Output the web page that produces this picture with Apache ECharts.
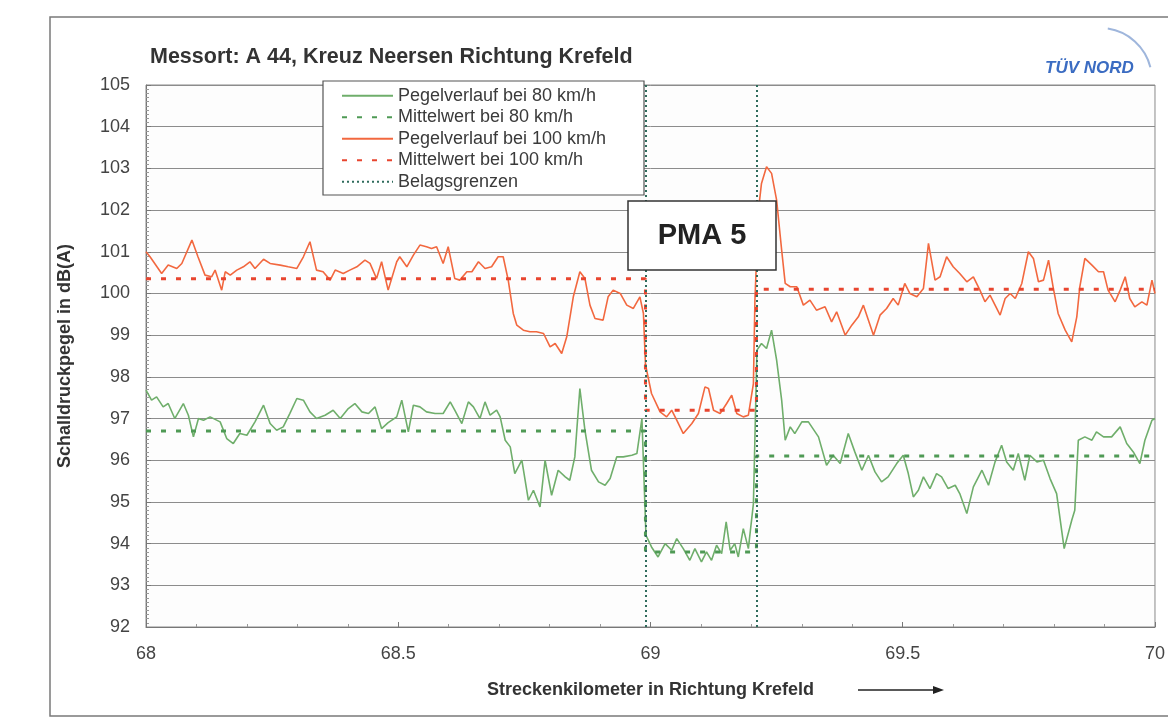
<!DOCTYPE html>
<html>
<head>
<meta charset="utf-8">
<script src="https://cdn.jsdelivr.net/npm/echarts@6/dist/echarts.min.js"></script>
<style>
html,body{margin:0;padding:0;background:#ffffff;}
#chart{width:1168px;height:719px;}
</style>
</head>
<body>
<div id="chart"></div>
<script>
// ---- Data (km, dB(A)) ----
const km100 = [68.000,68.008,68.031,68.044,68.061,68.071,68.091,68.103,68.117,68.130,68.137,68.150,68.157,68.167,68.180,68.193,68.206,68.216,68.233,68.246,68.266,68.282,68.299,68.312,68.325,68.338,68.351,68.365,68.375,68.391,68.404,68.418,68.434,68.444,68.457,68.467,68.480,68.497,68.503,68.517,68.530,68.543,68.556,68.566,68.576,68.589,68.599,68.612,68.622,68.636,68.646,68.659,68.672,68.685,68.698,68.708,68.718,68.728,68.735,68.748,68.761,68.774,68.788,68.801,68.811,68.824,68.834,68.847,68.860,68.870,68.880,68.890,68.906,68.916,68.926,68.940,68.953,68.966,68.979,68.986,68.990,69.002,69.019,69.032,69.042,69.052,69.065,69.082,69.095,69.108,69.115,69.125,69.138,69.151,69.161,69.171,69.184,69.194,69.204,69.207,69.214,69.220,69.230,69.240,69.250,69.260,69.267,69.277,69.290,69.303,69.316,69.329,69.346,69.359,69.369,69.386,69.399,69.412,69.422,69.432,69.442,69.455,69.468,69.481,69.491,69.504,69.514,69.528,69.541,69.551,69.564,69.574,69.587,69.600,69.613,69.627,69.640,69.653,69.663,69.673,69.683,69.693,69.703,69.713,69.723,69.736,69.749,69.759,69.769,69.779,69.789,69.798,69.808,69.822,69.835,69.845,69.851,69.861,69.875,69.888,69.898,69.907,69.921,69.931,69.941,69.950,69.960,69.974,69.984,69.994,70.000];
const level100 = [101.0,100.88,100.48,100.68,100.6,100.72,101.28,100.88,100.44,100.4,100.56,100.08,100.52,100.44,100.56,100.64,100.76,100.6,100.82,100.72,100.68,100.64,100.6,100.88,101.24,100.56,100.52,100.32,100.56,100.48,100.56,100.64,100.8,100.72,100.36,100.76,100.08,100.76,100.88,100.64,100.92,101.16,101.12,101.08,101.12,100.72,101.12,100.36,100.32,100.52,100.52,100.76,100.6,100.64,100.88,100.88,100.32,99.52,99.24,99.12,99.08,99.08,99.04,98.72,98.8,98.56,98.96,99.92,100.52,100.36,99.72,99.4,99.36,99.92,100.08,100.0,99.72,99.64,99.92,99.52,98.3,97.6,97.16,97.04,97.2,96.96,96.64,96.88,97.12,97.76,97.72,97.2,97.12,97.36,97.56,97.12,97.04,97.08,97.84,99.84,102.0,102.64,103.04,102.88,102.24,101.04,100.24,100.16,100.16,99.72,99.84,99.6,99.68,99.32,99.56,99.0,99.24,99.44,99.72,99.36,99.0,99.48,99.64,99.88,99.72,100.24,100.0,99.92,100.12,101.2,100.32,100.4,100.88,100.64,100.48,100.28,100.4,100.08,99.8,99.96,99.72,99.48,99.88,100.0,99.88,100.24,101.0,100.84,100.28,100.32,100.8,100.16,99.52,99.12,98.84,99.44,100.16,100.84,100.68,100.52,100.52,100.08,99.8,100.08,100.4,99.88,99.68,99.8,99.72,100.32,100.0];

const km80 = [68.000,68.011,68.021,68.034,68.044,68.057,68.074,68.084,68.094,68.104,68.114,68.127,68.147,68.160,68.173,68.186,68.200,68.216,68.233,68.246,68.259,68.272,68.285,68.299,68.312,68.325,68.338,68.355,68.371,68.385,68.401,68.414,68.428,68.441,68.454,68.467,68.480,68.497,68.507,68.520,68.530,68.543,68.556,68.573,68.589,68.603,68.612,68.626,68.639,68.649,68.662,68.672,68.682,68.695,68.702,68.712,68.722,68.731,68.745,68.758,68.768,68.781,68.791,68.804,68.817,68.831,68.840,68.850,68.860,68.870,68.883,68.897,68.910,68.920,68.933,68.946,68.963,68.973,68.983,68.991,69.002,69.015,69.029,69.042,69.052,69.065,69.078,69.088,69.101,69.111,69.121,69.131,69.141,69.150,69.158,69.167,69.174,69.184,69.194,69.204,69.211,69.220,69.230,69.240,69.250,69.260,69.267,69.277,69.286,69.300,69.313,69.333,69.349,69.362,69.376,69.392,69.405,69.419,69.432,69.445,69.458,69.471,69.488,69.501,69.511,69.521,69.531,69.541,69.554,69.567,69.577,69.590,69.604,69.613,69.627,69.640,69.657,69.670,69.683,69.696,69.706,69.719,69.729,69.742,69.752,69.766,69.779,69.792,69.805,69.815,69.820,69.835,69.841,69.848,69.861,69.875,69.884,69.898,69.914,69.931,69.944,69.957,69.970,69.980,69.994,70.000];
const level80 = [97.68,97.44,97.52,97.28,97.36,97.0,97.36,97.08,96.56,97.0,96.96,97.04,96.92,96.52,96.4,96.64,96.6,96.92,97.32,96.88,96.72,96.8,97.12,97.48,97.44,97.16,97.0,97.08,97.2,97.0,97.24,97.36,97.16,97.12,97.28,96.76,96.9,97.04,97.44,96.68,97.32,97.28,97.16,97.12,97.12,97.4,97.2,96.88,97.4,97.28,97.0,97.4,97.08,97.2,97.04,96.48,96.32,95.68,96.0,95.04,95.28,94.88,96.0,95.16,95.76,95.6,95.52,96.08,97.72,96.72,95.76,95.48,95.4,95.56,96.08,96.08,96.12,96.16,97.0,94.2,93.92,93.68,94.0,93.84,94.12,93.88,93.6,93.88,93.56,93.8,93.6,93.96,93.76,94.52,93.84,94.0,93.68,94.36,93.88,94.96,98.64,98.8,98.68,99.12,98.4,97.44,96.48,96.8,96.64,96.92,96.92,96.56,95.88,96.12,95.92,96.64,96.2,95.76,96.12,95.72,95.48,95.6,95.92,96.12,95.68,95.12,95.28,95.6,95.32,95.68,95.6,95.32,95.4,95.2,94.72,95.36,95.76,95.4,95.96,96.36,95.96,95.76,96.16,95.52,96.12,95.96,96.0,95.56,95.2,94.32,93.88,94.56,94.8,96.48,96.56,96.48,96.68,96.56,96.56,96.8,96.4,96.2,95.92,96.48,96.96,97.0];

// section borders (Belagsgrenzen) and section mean values
const sectionBounds = [68, 68.99, 69.21, 70];
const mean80 = [96.7, 93.8, 96.1];
const mean100 = [100.35, 97.2, 100.1];
const belagsgrenzen = [68.99, 69.21];

const seriesNames = ['Pegelverlauf bei 80 km/h','Mittelwert bei 80 km/h','Pegelverlauf bei 100 km/h','Mittelwert bei 100 km/h','Belagsgrenzen'];
const yTicks = {min: 92, max: 105, interval: 1};
const xTicks = {min: 68, max: 70, interval: 0.5};

function pairs(xs, ys){ return xs.map((x,i)=>[x, ys[i]]); }
function steps(bounds, means){
  const out = [];
  means.forEach((m,i)=>{ out.push([bounds[i], m]); out.push([bounds[i+1], m]); });
  return out;
}

const cGreen = '#6fae6b', cGreenMean = '#4f9a55', cRed = '#f2683f', cRedMean = '#e8452f', cBound = '#2f6b5c';
const fontFam = 'Liberation Sans, Arial, sans-serif';

const chart = echarts.init(document.getElementById('chart'), null, {renderer:'canvas'});
chart.setOption({
  backgroundColor: '#ffffff',
  animation: false,
  textStyle: {fontFamily: fontFam},
  grid: {left: 146, right: 13, top: 85, bottom: 92, show: true, borderColor: '#8a8a8a', borderWidth: 1, backgroundColor: '#fdfdfd'},
  legend: {
    data: seriesNames,
    orient: 'vertical', left: 341, top: 86, padding: 0,
    itemWidth: 51, itemHeight: 14, itemGap: 2,
    itemStyle: {opacity: 0, borderWidth: 0},
    textStyle: {fontSize: 18, lineHeight: 19.5, color: '#3a3a3a', fontFamily: fontFam},
    z: 20
  },
  xAxis: {
    type: 'value', min: xTicks.min, max: xTicks.max, interval: xTicks.interval,
    axisLine: {lineStyle: {color: '#777'}},
    axisTick: {show: true, inside: true, length: 5, lineStyle: {color: '#777'}},
    minorTick: {show: true, splitNumber: 5, length: 3, lineStyle: {color: '#999'}},
    splitLine: {show: false},
    axisLabel: {fontSize: 18, color: '#444', margin: 18, fontFamily: fontFam},
    name: 'Streckenkilometer in Richtung Krefeld',
    nameLocation: 'middle', nameGap: 54,
    nameTextStyle: {fontSize: 18, fontWeight: 'bold', color: '#333', fontFamily: fontFam}
  },
  yAxis: {
    type: 'value', min: yTicks.min, max: yTicks.max, interval: yTicks.interval,
    axisLine: {show: true, lineStyle: {color: '#777'}},
    axisTick: {show: true, inside: true, length: 5, lineStyle: {color: '#777'}},
    minorTick: {show: true, splitNumber: 10, length: 3, lineStyle: {color: '#999'}},
    splitLine: {show: true, lineStyle: {color: '#8c8c8c', width: 1}},
    axisLabel: {fontSize: 18, color: '#444', margin: 16, fontFamily: fontFam},
    name: 'Schalldruckpegel in dB(A)',
    nameLocation: 'middle', nameGap: 72,
    nameTextStyle: {fontSize: 18, fontWeight: 'bold', color: '#333', fontFamily: fontFam}
  },
  series: [
    {name: seriesNames[0], type: 'line', data: pairs(km80, level80), symbol: 'none',
     lineStyle: {color: cGreen, width: 1.6}, itemStyle: {color: cGreen}, z: 3},
    {name: seriesNames[1], type: 'line', data: steps(sectionBounds, mean80), symbol: 'none',
     lineStyle: {color: cGreenMean, width: 3, type: [5, 10]}, itemStyle: {color: cGreenMean}, z: 4},
    {name: seriesNames[2], type: 'line', data: pairs(km100, level100), symbol: 'none',
     lineStyle: {color: cRed, width: 1.6}, itemStyle: {color: cRed}, z: 3},
    {name: seriesNames[3], type: 'line', data: steps(sectionBounds, mean100), symbol: 'none',
     lineStyle: {color: cRedMean, width: 3, type: [5, 10]}, itemStyle: {color: cRedMean}, z: 4},
    {name: seriesNames[4], type: 'line', data: [], symbol: 'none',
     lineStyle: {color: cBound, width: 2, type: [2, 3]}, itemStyle: {color: cBound}, z: 5,
     markLine: {silent: true, symbol: ['none','none'], label: {show: false},
       lineStyle: {color: cBound, width: 2, type: [2, 3]},
       data: belagsgrenzen.map(v => ({xAxis: v}))}}
  ],
  graphic: [
    {type: 'rect', shape: {x: 50, y: 17, width: 1140, height: 699}, style: {fill: 'none', stroke: '#7a7a7a', lineWidth: 1.5}, z: 1, silent: true},
    {type: 'text', left: 150, top: 46, style: {text: 'Messort: A 44, Kreuz Neersen Richtung Krefeld', font: 'bold 21.5px ' + fontFam, fill: '#333'}, z: 10},
    {type: 'arc', shape: {cx: 1100, cy: 80, r: 52, startAngle: -Math.PI/2 + 0.15, endAngle: -0.25}, style: {stroke: '#9fb6dc', lineWidth: 2, fill: 'none'}, z: 10},
    {type: 'text', left: 1045, top: 60, style: {text: 'TÜV NORD', font: 'italic bold 17px ' + fontFam, fill: '#3b6cc2'}, z: 10},
    {type: 'rect', shape: {x: 323, y: 81, width: 321, height: 114}, style: {fill: '#ffffff', stroke: '#555', lineWidth: 1.2}, z: 15},
    {type: 'rect', shape: {x: 628, y: 201, width: 148, height: 69}, style: {fill: '#ffffff', stroke: '#333', lineWidth: 1.5}, z: 15},
    {type: 'text', x: 702, y: 236, style: {text: 'PMA 5', font: 'bold 29px ' + fontFam, fill: '#222', align: 'center', verticalAlign: 'middle'}, z: 16},
    {type: 'line', shape: {x1: 858, y1: 690, x2: 936, y2: 690}, style: {stroke: '#222', lineWidth: 1.5}, z: 10},
    {type: 'polygon', shape: {points: [[944, 690], [933, 686], [933, 694]]}, style: {fill: '#222'}, z: 10}
  ]
});
</script>
</body>
</html>
